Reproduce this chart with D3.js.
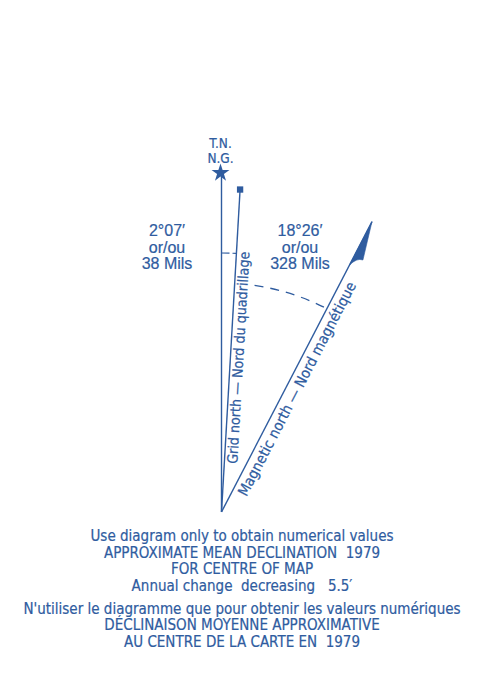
<!DOCTYPE html>
<html>
<head>
<meta charset="utf-8">
<script src="https://cdn.jsdelivr.net/npm/d3@7"></script>
<style>
  body { margin: 0; background: #fff; }
  svg text { fill: #2f5c9f; white-space: pre; stroke: #2f5c9f; stroke-width: 0.2px; }
</style>
</head>
<body>
<div id="diagram-Div"></div>
<script>

let width = 485, height = 688;

// drawn directions (degrees clockwise from true north, exaggerated as on the sheet)
const lineNames = ['True north', 'Grid north', 'Magnetic north'];
const lineAngles = [0, 3.3, 27.4];
const lineLengths = [338, 323, 327];

// angle labels
const gridDecl = ['2°07′', 'or/ou', '38 Mils'];
const magDecl = ['18°26′', 'or/ou', '328 Mils'];

const notesEn = [
    'Use diagram only to obtain numerical values',
    'APPROXIMATE MEAN DECLINATION  1979',
    'FOR CENTRE OF MAP',
    'Annual change  decreasing   5.5′'
];
const notesFr = [
    "N'utiliser le diagramme que pour obtenir les valeurs numériques",
    'DÉCLINAISON MOYENNE APPROXIMATIVE',
    'AU CENTRE DE LA CARTE EN  1979'
];

const blue = '#2f5c9f';
const narrow = '"Liberation Sans Narrow", "DejaVu Sans Condensed", "Roboto Condensed", sans-serif';

let svg = d3.select('#diagram-Div')
    .append('svg')
    .attr('width', width)
    .attr('height', height);

// vertex of the diagram
let origin = [221.5, 512];

let rad = d3.scaleLinear().domain([0, 360]).range([0, 2 * Math.PI]);

let g = svg.append('g')
    .attr('transform', `translate(${origin[0]},${origin[1]})`);

function tip(i, r) {
    return d3.pointRadial(rad(lineAngles[i]), r == null ? lineLengths[i] : r);
}

// the three lines
g.selectAll('line.dir')
    .data(lineAngles)
    .join('line')
    .attr('class', 'dir')
    .attr('x1', 0).attr('y1', 0)
    .attr('x2', (d, i) => tip(i)[0])
    .attr('y2', (d, i) => tip(i)[1])
    .attr('stroke', blue)
    .attr('stroke-width', 1.4);

// star for true north
let tn = tip(0);
g.append('path')
    .attr('d', d3.symbol(d3.symbolStar, 100)())
    .attr('transform', `translate(${tn[0] - 1},${tn[1] - 1})`)
    .attr('fill', blue);

// square for grid north
let gn = tip(1);
g.append('path')
    .attr('d', d3.symbol(d3.symbolSquare, 40)())
    .attr('transform', `translate(${gn[0]},${gn[1]})`)
    .attr('fill', blue);

// half arrow (flag) on magnetic north, on the right of the line
let mn = tip(2);
let flagBase = tip(2, lineLengths[2] - 49);
let flagOut = d3.pointRadial(rad(lineAngles[2] + 1.9), lineLengths[2] - 38);
let flagCtl = d3.pointRadial(rad(lineAngles[2] + 0.6), lineLengths[2] - 39);
g.append('path')
    .attr('d', `M${mn[0]},${mn[1]} L${flagOut[0]},${flagOut[1]} Q${flagCtl[0]},${flagCtl[1]} ${flagBase[0]},${flagBase[1]} Z`)
    .attr('fill', blue)
    .attr('stroke', blue)
    .attr('stroke-width', 0.6);

// dashed arcs
function arcPath(r, a0, a1) {
    let p = d3.path();
    p.arc(0, 0, r, rad(a0 - 90), rad(a1 - 90));
    return p.toString();
}
g.append('path')
    .attr('d', arcPath(259, lineAngles[0], lineAngles[1]))
    .attr('fill', 'none')
    .attr('stroke', blue)
    .attr('stroke-width', 1.2)
    .attr('stroke-dasharray', '8,3');

g.append('path')
    .attr('d', arcPath(229, 8.3, lineAngles[2]))
    .attr('fill', 'none')
    .attr('stroke', blue)
    .attr('stroke-width', 1.3)
    .attr('stroke-dasharray', '9,7');

// labels along lines
function alongLabel(i, dist, offset, text, size) {
    let a = lineAngles[i];
    let p = d3.pointRadial(rad(a), dist);
    let n = [Math.cos(rad(a)) * offset, Math.sin(rad(a)) * offset];
    g.append('text')
        .attr('transform', `translate(${p[0] + n[0]},${p[1] + n[1]}) rotate(${a - 90})`)
        .attr('text-anchor', 'middle')
        .style('font-family', narrow)
        .style('font-size', size + 'px')
        .text(text);
}
alongLabel(1, 155, 13, 'Grid north — Nord du quadrillage', 14.2);
alongLabel(2, 144, 15.5, 'Magnetic north — Nord magnétique', 14.8);

// T.N. / N.G.
g.selectAll('text.tn')
    .data(['T.N.', 'N.G.'])
    .join('text')
    .attr('class', 'tn')
    .attr('x', tn[0] - 1)
    .attr('y', (d, i) => tn[1] - 26 + i * 14.5)
    .attr('text-anchor', 'middle')
    .style('font-family', narrow)
    .style('font-size', '13.5px')
    .text(d => d);

// declination values
function declBlock(lines, x, y) {
    svg.selectAll(null)
        .data(lines)
        .join('text')
        .attr('x', x)
        .attr('y', (d, i) => y + i * 16.5)
        .attr('text-anchor', 'middle')
        .style('font-family', '"Liberation Sans", Arial, sans-serif')
        .style('font-size', '16px')
        .text(d => d);
}
declBlock(gridDecl, 167, 236);
declBlock(magDecl, 300, 236);

// notes
function noteBlock(lines, y) {
    svg.selectAll(null)
        .data(lines)
        .join('text')
        .attr('x', 242)
        .attr('y', (d, i) => y + i * 16.6)
        .attr('text-anchor', 'middle')
        .style('font-family', narrow)
        .style('font-size', '15px')
        .text(d => d);
}
noteBlock(notesEn, 541);
noteBlock(notesFr, 613.5);

</script>
</body>
</html>
